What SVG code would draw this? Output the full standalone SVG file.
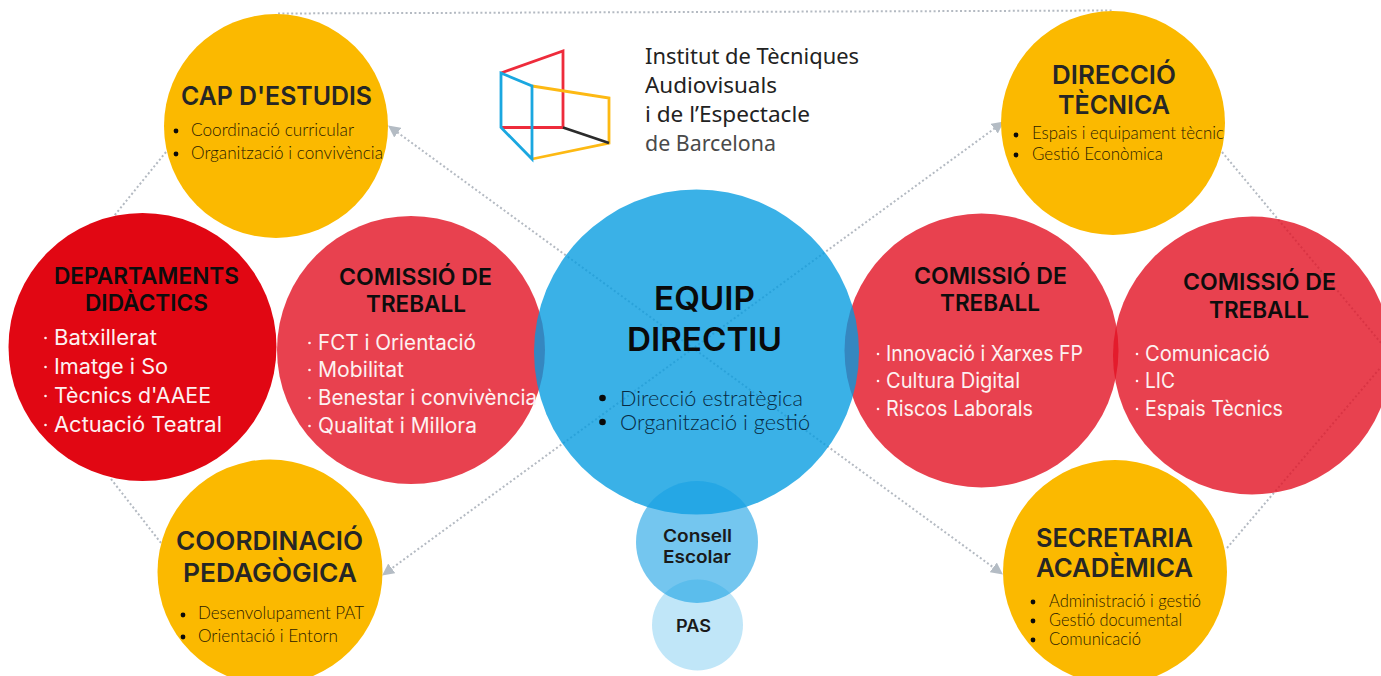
<svg xmlns="http://www.w3.org/2000/svg" width="1381" height="676" viewBox="0 0 1381 676">
<style>
text{font-family:Inter,"Liberation Sans",sans-serif}
.gold{fill:#fbb900}
.red{fill:#e21223;fill-opacity:.8}
.dept{fill:#e10713}
.h{font-weight:600;font-size:26px;fill:#262626}
.hr{font-weight:600;font-size:23px;fill:#0d0d0d}
.w{font-weight:400;font-size:21px;fill:#fdf1f1}
.b{font-family:Lato,"Liberation Sans",sans-serif;font-weight:300;font-size:17px;fill:#2a2000}
.bd{fill:#0a0a0a}
.wd{fill:#fdf1f1}
.lk{fill:none;stroke:#b4bac2;stroke-width:2;stroke-dasharray:2 2.4}
.lg{fill:none;stroke-width:2.8;stroke-linejoin:miter}
.lt{font-family:"Noto Sans","Open Sans",sans-serif;font-size:22px;fill:#222}
</style>
<defs>
<marker id="ah" viewBox="0 0 10 10" refX="8" refY="5" markerWidth="12" markerHeight="12" markerUnits="userSpaceOnUse" orient="auto-start-reverse"><path d="M0 0L10 5L0 10Z" fill="#b4bcc4"/></marker>
</defs>
<rect width="1381" height="676" fill="#fff"/>
<g id="connectors">
<path class="lk" d="M278 13.5L1113 10.5"/>
<path class="lk" d="M390 127L1001 573" marker-start="url(#ah)" marker-end="url(#ah)"/>
<path class="lk" d="M1002 123L384 574" marker-start="url(#ah)" marker-end="url(#ah)"/>
<path class="lk" d="M166 152L114 216"/>
<path class="lk" d="M111 479L161 543"/>
<path class="lk" d="M1222 152L1381 343"/>
<path class="lk" d="M1227 548L1381 367"/>
</g>
<g id="cap-estudis">
<circle class="gold" cx="276" cy="126" r="112"/>
<text class="h" x="181" y="105" textLength="191" lengthAdjust="spacingAndGlyphs">CAP D'ESTUDIS</text>
<circle class="bd" cx="176" cy="131" r="2.4"/><text class="b" x="191" y="136" textLength="163" lengthAdjust="spacingAndGlyphs">Coordinació curricular</text>
<circle class="bd" cx="176" cy="154" r="2.4"/><text class="b" x="191" y="159" textLength="192" lengthAdjust="spacingAndGlyphs">Organització i convivència</text>
</g>
<g id="direccio-tecnica">
<circle class="gold" cx="1113" cy="123" r="112"/>
<text class="h" x="1052" y="84" textLength="124" lengthAdjust="spacingAndGlyphs">DIRECCIÓ</text>
<text class="h" x="1058" y="114" textLength="112" lengthAdjust="spacingAndGlyphs">TÈCNICA</text>
<circle class="bd" cx="1016" cy="135" r="2.4"/><text class="b" x="1032" y="139" textLength="192" lengthAdjust="spacingAndGlyphs">Espais i equipament tècnic</text>
<circle class="bd" cx="1016" cy="155" r="2.4"/><text class="b" x="1032" y="160" textLength="131" lengthAdjust="spacingAndGlyphs">Gestió Econòmica</text>
</g>
<g id="coordinacio-pedagogica">
<circle class="gold" cx="270" cy="572" r="112.5"/>
<text class="h" x="176" y="550" textLength="187" lengthAdjust="spacingAndGlyphs">COORDINACIÓ</text>
<text class="h" x="183" y="582" textLength="174" lengthAdjust="spacingAndGlyphs">PEDAGÒGICA</text>
<circle class="bd" cx="183" cy="615" r="2.4"/><text class="b" x="198" y="619" textLength="166" lengthAdjust="spacingAndGlyphs">Desenvolupament PAT</text>
<circle class="bd" cx="183" cy="637" r="2.4"/><text class="b" x="198" y="642" textLength="140" lengthAdjust="spacingAndGlyphs">Orientació i Entorn</text>
</g>
<g id="secretaria-academica">
<circle class="gold" cx="1115" cy="572" r="112"/>
<text class="h" x="1036" y="547" textLength="157" lengthAdjust="spacingAndGlyphs">SECRETARIA</text>
<text class="h" x="1036" y="577" textLength="157" lengthAdjust="spacingAndGlyphs">ACADÈMICA</text>
<circle class="bd" cx="1033" cy="602" r="2.4"/><text class="b" x="1049" y="607" textLength="152" lengthAdjust="spacingAndGlyphs">Administració i gestió</text>
<circle class="bd" cx="1033" cy="621" r="2.4"/><text class="b" x="1049" y="626" textLength="133" lengthAdjust="spacingAndGlyphs">Gestió documental</text>
<circle class="bd" cx="1033" cy="640" r="2.4"/><text class="b" x="1049" y="645" textLength="92" lengthAdjust="spacingAndGlyphs">Comunicació</text>
</g>
<g id="departaments">
<circle class="dept" cx="142.5" cy="347" r="134"/>
<text class="hr" x="54" y="284" textLength="185" lengthAdjust="spacingAndGlyphs">DEPARTAMENTS</text>
<text class="hr" x="85" y="311" textLength="123" lengthAdjust="spacingAndGlyphs">DIDÀCTICS</text>
<circle class="wd" cx="45.5" cy="338" r="1.3"/><text class="w" x="54" y="345" textLength="103" lengthAdjust="spacingAndGlyphs">Batxillerat</text>
<circle class="wd" cx="45.5" cy="367" r="1.3"/><text class="w" x="54" y="374" textLength="114" lengthAdjust="spacingAndGlyphs">Imatge i So</text>
<circle class="wd" cx="45.5" cy="396" r="1.3"/><text class="w" x="54" y="403" textLength="157" lengthAdjust="spacingAndGlyphs">Tècnics d'AAEE</text>
<circle class="wd" cx="45.5" cy="425" r="1.3"/><text class="w" x="54" y="432" textLength="168" lengthAdjust="spacingAndGlyphs">Actuació Teatral</text>
</g>
<g id="comissio-1">
<circle class="red" cx="411" cy="350" r="134"/>
<text class="hr" x="339" y="285" textLength="153" lengthAdjust="spacingAndGlyphs">COMISSIÓ DE</text>
<text class="hr" x="366" y="312" textLength="100" lengthAdjust="spacingAndGlyphs">TREBALL</text>
<circle class="wd" cx="309.5" cy="343" r="1.3"/><text class="w" x="318" y="350" textLength="158" lengthAdjust="spacingAndGlyphs">FCT i Orientació</text>
<circle class="wd" cx="309.5" cy="370" r="1.3"/><text class="w" x="318" y="377" textLength="86" lengthAdjust="spacingAndGlyphs">Mobilitat</text>
<circle class="wd" cx="309.5" cy="398" r="1.3"/><text class="w" x="318" y="405" textLength="219" lengthAdjust="spacingAndGlyphs">Benestar i convivència</text>
<circle class="wd" cx="309.5" cy="426" r="1.3"/><text class="w" x="318" y="433" textLength="159" lengthAdjust="spacingAndGlyphs">Qualitat i Millora</text>
</g>
<g id="comissio-2">
<circle class="red" cx="981.5" cy="350.5" r="137"/>
<text class="hr" x="914" y="284" textLength="153" lengthAdjust="spacingAndGlyphs">COMISSIÓ DE</text>
<text class="hr" x="940" y="311" textLength="100" lengthAdjust="spacingAndGlyphs">TREBALL</text>
<circle class="wd" cx="878" cy="354" r="1.3"/><text class="w" x="886" y="361" textLength="197" lengthAdjust="spacingAndGlyphs">Innovació i Xarxes FP</text>
<circle class="wd" cx="878" cy="381" r="1.3"/><text class="w" x="886" y="388" textLength="134" lengthAdjust="spacingAndGlyphs">Cultura Digital</text>
<circle class="wd" cx="878" cy="409" r="1.3"/><text class="w" x="886" y="416" textLength="147" lengthAdjust="spacingAndGlyphs">Riscos Laborals</text>
</g>
<g id="comissio-3">
<circle class="red" cx="1252" cy="355.5" r="139"/>
<text class="hr" x="1183" y="290" textLength="153" lengthAdjust="spacingAndGlyphs">COMISSIÓ DE</text>
<text class="hr" x="1209" y="318" textLength="100" lengthAdjust="spacingAndGlyphs">TREBALL</text>
<circle class="wd" cx="1137" cy="354" r="1.3"/><text class="w" x="1145" y="361" textLength="125" lengthAdjust="spacingAndGlyphs">Comunicació</text>
<circle class="wd" cx="1137" cy="381" r="1.3"/><text class="w" x="1145" y="388" textLength="30" lengthAdjust="spacingAndGlyphs">LIC</text>
<circle class="wd" cx="1137" cy="409" r="1.3"/><text class="w" x="1145" y="416" textLength="138" lengthAdjust="spacingAndGlyphs">Espais Tècnics</text>
</g>
<g id="equip-directiu">
<circle cx="696.5" cy="352" r="162.5" fill="#029be0" fill-opacity=".78"/>
<text x="654" y="310" font-size="33" font-weight="600" fill="#0a0a0a" textLength="101" lengthAdjust="spacingAndGlyphs">EQUIP</text>
<text x="627" y="351" font-size="33" font-weight="600" fill="#0a0a0a" textLength="155" lengthAdjust="spacingAndGlyphs">DIRECTIU</text>
<circle class="bd" cx="602.5" cy="398" r="3.3"/><text class="b" x="620" y="406" style="font-size:21px;fill:#082a42" textLength="183" lengthAdjust="spacingAndGlyphs">Direcció estratègica</text>
<circle class="bd" cx="602.5" cy="422" r="3.3"/><text class="b" x="620" y="430" style="font-size:21px;fill:#082a42" textLength="190" lengthAdjust="spacingAndGlyphs">Organització i gestió</text>
</g>
<g id="consell-escolar">
<circle cx="697" cy="542" r="61" fill="#17a0e4" fill-opacity=".6"/>
<text x="663" y="542" font-size="17.5" font-weight="600" fill="#1a1a1a" textLength="69" lengthAdjust="spacingAndGlyphs">Consell</text>
<text x="663" y="563" font-size="17.5" font-weight="600" fill="#1a1a1a" textLength="68" lengthAdjust="spacingAndGlyphs">Escolar</text>
</g>
<g id="pas">
<circle cx="697.5" cy="625" r="45.5" fill="#1ca6e6" fill-opacity=".28"/>
<text x="676" y="632" font-size="17" font-weight="600" fill="#1a1a1a" textLength="35" lengthAdjust="spacingAndGlyphs">PAS</text>
</g>
<g id="logo">
<path class="lg" stroke="#ee2b3b" d="M501 73L563 51V127.5H501"/>
<path class="lg" stroke="#fdb913" d="M532 86L609 98V143L532 159"/>
<path class="lg" stroke="#2b2b2b" d="M563 127.5L609 143"/>
<path class="lg" stroke="#1aa7e0" d="M532 159V86L501 73V127.5Z"/>
<text class="lt" x="645" y="63.5" textLength="214" lengthAdjust="spacingAndGlyphs">Institut de Tècniques</text>
<text class="lt" x="645" y="92.5" textLength="132" lengthAdjust="spacingAndGlyphs">Audiovisuals</text>
<text class="lt" x="645" y="121.5" textLength="165" lengthAdjust="spacingAndGlyphs">i de l’Espectacle</text>
<text class="lt" x="645" y="150.5" style="fill:#4a4a4a" textLength="131" lengthAdjust="spacingAndGlyphs">de Barcelona</text>
</g>
</svg>
